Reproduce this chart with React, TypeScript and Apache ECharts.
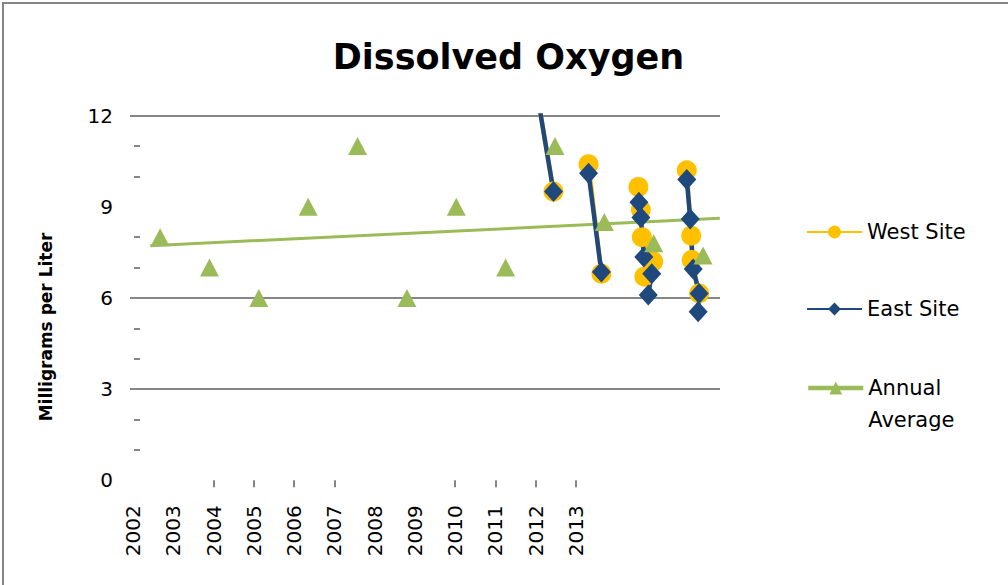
import React, { useEffect, useRef } from 'react';
import * as echarts from 'echarts';

// ---- Data ----
const labelYears = [2002, 2003, 2004, 2005, 2006, 2007, 2008, 2009, 2010, 2011, 2012, 2013];
const tickYears = [2004, 2005, 2006, 2007, 2010, 2011, 2012, 2013];

const annualDates = [2002.5, 2003.5, 2004.5, 2005.5, 2006.5, 2007.5, 2008.5, 2009.5, 2010.5, 2011.5, 2012.5, 2013.5];
const annualValues = [8, 7, 6, 9, 11, 6, 9, 7, 11, 8.5, 7.8, 7.4];

const westDates = [2010.08, 2010.47, null, 2011.18, 2011.44, null, 2012.19, 2012.24, 2012.26, 2012.49, 2012.31, null, 2013.17, 2013.26, 2013.27, 2013.42];
const westValues = [13.3, 9.5, null, 10.4, 6.8, null, 9.65, 8.9, 8.0, 7.2, 6.7, null, 10.2, 8.05, 7.25, 6.15];

const eastDates = [2010.1, 2010.47, null, 2011.18, 2011.44, null, 2012.2, 2012.24, 2012.3, 2012.46, 2012.39, null, 2013.17, 2013.24, 2013.3, 2013.42, 2013.4];
const eastValues = [13.1, 9.5, null, 10.1, 6.85, null, 9.15, 8.65, 7.35, 6.8, 6.1, null, 9.9, 8.6, 6.95, 6.15, 5.55];

const trendDates = [2002.3, 2013.84];
const trendValues = [7.72, 8.62];

const zip = (d: (number | null)[], v: (number | null)[]) =>
  d.map((x, i) => (x === null || v[i] === null ? ['-', '-'] : [x, v[i]]));

const FONT = 'DejaVu Sans';
const GRAY = '#868686';
const YELLOW = '#FFC000';
const BLUE = '#1F497D';
const GREEN = '#9BBB59';

export default function App() {
  const ref = useRef<HTMLDivElement>(null);
  useEffect(() => {
    if (!ref.current) return;
    const chart = echarts.init(ref.current, null, { renderer: 'svg' });
    const legendBase = {
      orient: 'vertical',
      left: 806,
      padding: 0,
      itemWidth: 55,
      itemHeight: 16,
      selectedMode: false,
      textStyle: { fontFamily: FONT, fontSize: 21, lineHeight: 32, color: '#000' },
    };
    chart.setOption({
      animation: false,
      textStyle: { fontFamily: FONT },
      grid: { left: 130, top: 115.6, width: 590, height: 364.7 },
      xAxis: [
        { type: 'value', min: 2001.89, max: 2013.843, show: false },
        {
          type: 'value',
          min: 2001.925,
          max: 2016.576,
          position: 'bottom',
          axisLine: { show: false },
          splitLine: { show: false },
          axisTick: { show: true, customValues: tickYears, length: 7, lineStyle: { color: GRAY, width: 2 } },
          axisLabel: {
            customValues: labelYears,
            rotate: 90,
            margin: 25,
            fontSize: 20,
            fontFamily: FONT,
            color: '#000',
            formatter: (v: number) => String(v),
          },
        },
      ],
      yAxis: {
        type: 'value',
        min: 0,
        max: 12,
        interval: 3,
        offset: -10,
        axisLine: { show: false },
        axisTick: { show: false },
        minorTick: { show: true, splitNumber: 3, length: 6, lineStyle: { color: GRAY, width: 2 } },
        minorSplitLine: { show: false },
        splitLine: {
          show: true,
          lineStyle: { color: ['rgba(0,0,0,0)', GRAY, GRAY, 'rgba(0,0,0,0)', GRAY], width: 2 },
        },
        axisLabel: { margin: 27, fontSize: 20, fontFamily: FONT, color: '#000' },
      },
      legend: [
        { ...legendBase, data: ['West Site'], top: 216 },
        { ...legendBase, data: ['East Site'], top: 293 },
        {
          ...legendBase,
          data: ['Annual Average'],
          top: 340,
          formatter: () => '\nAnnual\nAverage',
          lineStyle: { color: GREEN, width: 4.5, opacity: 1 },
        },
      ],
      graphic: [
        {
          type: 'rect',
          silent: true,
          shape: { x: 3, y: 3, width: 1100, height: 700 },
          style: { fill: 'none', stroke: GRAY, lineWidth: 2 },
        },
        {
          type: 'text',
          x: 508.5,
          y: 57,
          style: {
            text: 'Dissolved Oxygen',
            font: `bold 35px "${FONT}"`,
            fill: '#000',
            textAlign: 'center',
            textVerticalAlign: 'middle',
          },
        },
        {
          type: 'text',
          x: 46,
          y: 327,
          rotation: Math.PI / 2,
          style: {
            text: 'Milligrams per Liter',
            font: `bold 17px "${FONT}"`,
            fill: '#000',
            textAlign: 'center',
            textVerticalAlign: 'middle',
          },
        },
      ],
      series: [
        {
          type: 'line',
          xAxisIndex: 0,
          data: zip(trendDates, trendValues),
          symbol: 'none',
          silent: true,
          lineStyle: { color: GREEN, width: 3 },
        },
        {
          name: 'West Site',
          type: 'line',
          xAxisIndex: 0,
          data: zip(westDates, westValues),
          symbol: 'circle',
          symbolSize: 20,
          showAllSymbol: true,
          connectNulls: false,
          itemStyle: { color: YELLOW },
          lineStyle: { color: YELLOW, width: 4.5 },
        },
        {
          name: 'East Site',
          type: 'line',
          xAxisIndex: 0,
          data: zip(eastDates, eastValues),
          symbol: 'diamond',
          symbolSize: [19, 21],
          showAllSymbol: true,
          connectNulls: false,
          itemStyle: { color: BLUE },
          lineStyle: { color: BLUE, width: 4.5 },
        },
        {
          name: 'Annual Average',
          type: 'line',
          xAxisIndex: 0,
          data: zip(annualDates, annualValues),
          symbol: 'triangle',
          symbolSize: [19, 18],
          showAllSymbol: true,
          itemStyle: { color: GREEN },
          lineStyle: { color: GREEN, width: 0, opacity: 0 },
        },
      ],
    });
    return () => chart.dispose();
  }, []);
  return <div ref={ref} style={{ position: 'absolute', left: 0, top: 0, width: 1008, height: 585 }} />;
}
